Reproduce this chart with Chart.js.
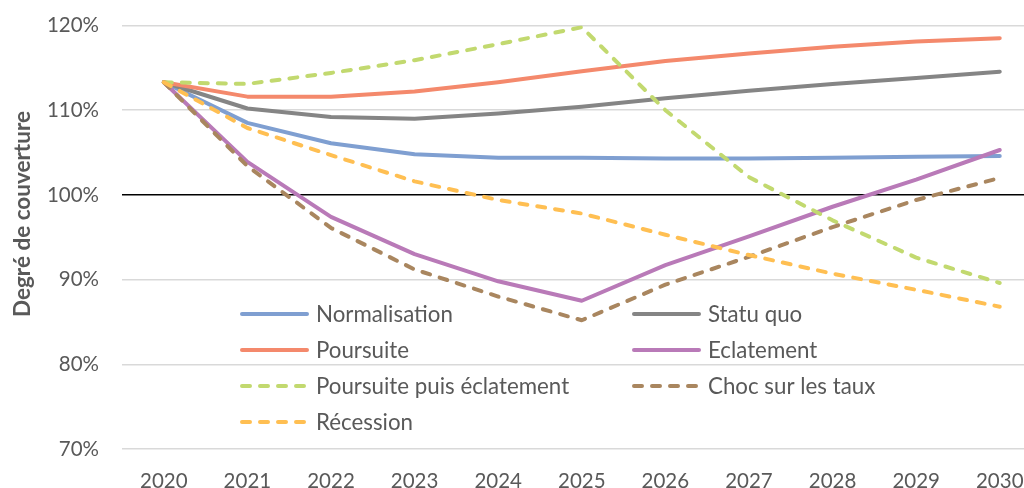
<!DOCTYPE html>
<html lang="fr">
<head>
<meta charset="utf-8">
<script src="https://cdn.jsdelivr.net/npm/chart.js@4/dist/chart.umd.min.js"></script>
<style>
  html, body { margin: 0; padding: 0; background: #ffffff; overflow: hidden; }
  canvas { display: block; }
</style>
</head>
<body>
<canvas id="chart" width="1024" height="488"></canvas>
<script>
// Années du scénario et graduations de l'axe vertical (en %)
const years = [2020, 2021, 2022, 2023, 2024, 2025, 2026, 2027, 2028, 2029, 2030];
const yTicks = [70, 80, 90, 100, 110, 120];
const yTitle = 'Degré de couverture';

// Degré de couverture par scénario (%)
const normalisation = [113.3, 108.5, 106.1, 104.8, 104.4, 104.4, 104.3, 104.3, 104.4, 104.5, 104.6];
const statuQuo      = [113.3, 110.2, 109.2, 109.0, 109.6, 110.4, 111.4, 112.3, 113.1, 113.8, 114.55];
const poursuite     = [113.3, 111.6, 111.6, 112.2, 113.3, 114.6, 115.8, 116.7, 117.5, 118.1, 118.5];
const eclatement    = [113.3, 103.9, 97.4, 93.0, 89.8, 87.5, 91.7, 95.1, 98.6, 101.8, 105.3];
const poursuiteEcl  = [113.3, 113.1, 114.4, 115.9, 117.8, 119.8, 110.0, 102.1, 97.0, 92.6, 89.6];
const chocTaux      = [113.3, 103.4, 96.1, 91.2, 88.0, 85.2, 89.4, 92.7, 96.2, 99.4, 102.0];
const recession     = [113.3, 107.9, 104.7, 101.6, 99.4, 97.8, 95.3, 92.9, 90.7, 88.8, 86.8];

const seriesLabels = ['Normalisation', 'Statu quo', 'Poursuite', 'Eclatement',
                      'Poursuite puis éclatement', 'Choc sur les taux', 'Récession'];
const seriesValues = [normalisation, statuQuo, poursuite, eclatement, poursuiteEcl, chocTaux, recession];
const seriesColors = ['#7F9FD1', '#858585', '#F4896C', '#B97AB8', '#C2D96F', '#A9865F', '#FFBF52'];
const seriesDashed = [false, false, false, false, true, true, true];

const TEXT = '#595959';
const FONT = 'Lato, "Open Sans", sans-serif';
const DASH = [8, 10];

const datasets = seriesLabels.map((label, i) => ({
  label,
  data: years.map((yr, k) => ({ x: yr, y: seriesValues[i][k] })),
  borderColor: seriesColors[i],
  backgroundColor: seriesColors[i],
  borderWidth: 4,
  borderDash: seriesDashed[i] ? DASH : [],
  borderCapStyle: 'round',
  borderJoinStyle: 'round',
  pointRadius: 0,
  tension: 0,
  fill: false,
  order: seriesLabels.length - i
}));

// Légende sur deux colonnes, placée dans la zone de tracé
const insideLegend = {
  id: 'insideLegend',
  afterDraw(chart) {
    const ctx = chart.ctx;
    const cols = [240, 632];
    const rowY = [314, 350, 386, 422];
    const sampleW = 67;
    ctx.save();
    ctx.font = '22.3px ' + FONT;
    ctx.textBaseline = 'middle';
    ctx.textAlign = 'left';
    chart.data.datasets.forEach((ds, i) => {
      const x = cols[i % 2];
      const y = rowY[Math.floor(i / 2)];
      ctx.strokeStyle = ds.borderColor;
      ctx.lineWidth = ds.borderWidth;
      ctx.lineCap = 'round';
      ctx.setLineDash(ds.borderDash);
      ctx.beginPath();
      ctx.moveTo(x + 2, y);
      ctx.lineTo(x + sampleW, y);
      ctx.stroke();
      ctx.setLineDash([]);
      ctx.fillStyle = TEXT;
      ctx.fillText(ds.label, x + 76, y + 1);
    });
    ctx.restore();
  }
};

// Titre de l'axe vertical
const axisTitle = {
  id: 'axisTitle',
  afterDraw(chart) {
    const ctx = chart.ctx;
    ctx.save();
    ctx.translate(23, 214);
    ctx.rotate(-Math.PI / 2);
    ctx.font = 'bold 22.5px ' + FONT;
    ctx.fillStyle = TEXT;
    ctx.textAlign = 'center';
    ctx.textBaseline = 'middle';
    ctx.fillText(yTitle, 0, 0);
    ctx.restore();
  }
};

new Chart(document.getElementById('chart'), {
  type: 'line',
  data: { datasets },
  plugins: [insideLegend, axisTitle],
  options: {
    responsive: false,
    animation: false,
    devicePixelRatio: 1,
    layout: { padding: { top: 25.5, left: 0, right: 0, bottom: 0 } },
    plugins: { legend: { display: false }, tooltip: { enabled: false } },
    scales: {
      x: {
        type: 'linear',
        min: 2019.5,
        max: 2030.29,
        afterBuildTicks: (s) => { s.ticks = years.map(v => ({ value: v })); },
        afterFit: (s) => { s.height = 39; s.paddingLeft = 0; s.paddingRight = 0; },
        grid: { display: false },
        border: { display: false },
        ticks: {
          color: TEXT,
          font: { family: FONT, size: 20.5 },
          padding: 12,
          maxRotation: 0,
          autoSkip: false,
          callback: (v) => String(v)
        }
      },
      y: {
        min: 70,
        max: 120,
        afterBuildTicks: (s) => { s.ticks = yTicks.map(v => ({ value: v })); },
        afterFit: (s) => { s.width = 122; s.paddingTop = 0; s.paddingBottom = 0; },
        border: { display: false },
        grid: {
          drawTicks: false,
          color: (c) => (c.tick && c.tick.value === 100 ? '#000000' : '#D9D9D9'),
          lineWidth: 1.6
        },
        ticks: {
          color: TEXT,
          font: { family: FONT, size: 20.5 },
          padding: 23,
          callback: (v) => v + '%'
        }
      }
    }
  }
});
</script>
</body>
</html>
